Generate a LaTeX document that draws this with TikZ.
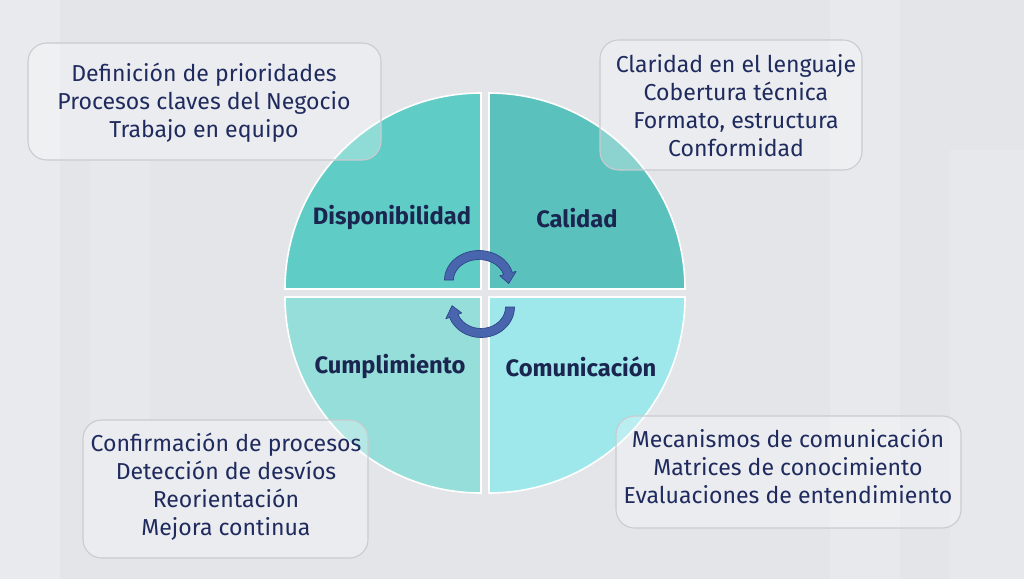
\documentclass[tikz,border=0pt]{standalone}
\usepackage{fontspec}
\setmainfont{Fira Sans}
\definecolor{bgc}{HTML}{E3E5E9}
\definecolor{qtl}{HTML}{5FCDC5}
\definecolor{qtr}{HTML}{5BC1BD}
\definecolor{qbl}{HTML}{95DED9}
\definecolor{qbr}{HTML}{9EE8EB}
\definecolor{txt}{HTML}{1F2B5E}
\definecolor{lab}{HTML}{1A2550}
\definecolor{arrf}{HTML}{4865AE}
\definecolor{arrd}{HTML}{2D4486}
\definecolor{boxd}{HTML}{C9CBD0}
\tikzset{
  quad/.style={draw=white,line width=1.2pt},
  infobox/.style={draw=boxd,line width=0.8pt,fill=white,fill opacity=0.3,rounded corners=14pt},
  infotext/.style={text=txt,align=center,font=\fontsize{17.3}{21}\selectfont,inner sep=0pt},
  qlabel/.style={text=lab,font=\fontsize{17.8}{20}\selectfont\bfseries,inner sep=0pt},
  cyc/.style={fill=arrf,draw=arrd,line width=0.5pt,line join=round}
}
\begin{document}
\begin{tikzpicture}[x=0.75pt,y=-0.75pt]
\fill[bgc] (0,0) rectangle (1024,579);
% subtle background texture
\fill[white,opacity=0.2] (0,0) rectangle (60,579);
\fill[white,opacity=0.15] (90,160) rectangle (150,420);
\fill[white,opacity=0.18] (830,0) rectangle (900,579);
\fill[white,opacity=0.15] (950,150) rectangle (1024,579);
\useasboundingbox (0,0) rectangle (1024,579);
% quadrants
\filldraw[quad,fill=qtl] (481,289) -- ([shift={(481,289)}]180:196) arc[start angle=180,end angle=270,radius=196] -- cycle;
\filldraw[quad,fill=qtr] (489,289) -- ([shift={(489,289)}]270:196) arc[start angle=270,end angle=360,radius=196] -- cycle;
\filldraw[quad,fill=qbl] (481,297) -- ([shift={(481,297)}]90:196) arc[start angle=90,end angle=180,radius=196] -- cycle;
\filldraw[quad,fill=qbr] (489,297) -- ([shift={(489,297)}]0:196) arc[start angle=0,end angle=90,radius=196] -- cycle;
% cycle arrows
\filldraw[cyc] ([shift={(479,280)}]180:34.5 and 29.5) arc[start angle=180,end angle=345,x radius=34.5,y radius=29.5]
  -- ([shift={(479,280)}]345:38.5 and 33.5) -- ([shift={(479,280)}]8:30 and 25)
  -- ([shift={(479,280)}]345:21.5 and 16.5) -- ([shift={(479,280)}]345:25.5 and 20.5)
  arc[start angle=345,end angle=180,x radius=25.5,y radius=20.5] -- cycle;
\filldraw[cyc] ([shift={(481,307)}]0:33.5 and 30.5) arc[start angle=0,end angle=160,x radius=33.5,y radius=30.5]
  -- ([shift={(481,307)}]160:37.5 and 34.5) -- ([shift={(481,307)}]183:29 and 26)
  -- ([shift={(481,307)}]160:20.5 and 17.5) -- ([shift={(481,307)}]160:24.5 and 21.5)
  arc[start angle=160,end angle=0,x radius=24.5,y radius=21.5] -- cycle;
% labels
\node[qlabel] (ldisp) at (392,218) {Disponibilidad};
\node[qlabel] (lcal) at (577,218) {Calidad};
\node[qlabel] (lcump) at (390,367) {Cumplimiento};
\node[qlabel] (lcom) at (581,367) {Comunicación};
% info boxes
\draw[infobox] (28,43) rectangle (381,160);
\draw[infobox] (600,40) rectangle (862,170);
\draw[infobox] (83,420) rectangle (368,558);
\draw[infobox] (616,416) rectangle (961,528);
\node[infotext] (ttl) at (204,103) {Definición de prioridades\\Procesos claves del Negocio\\Trabajo en equipo};
\node[infotext] (ttr) at (736,106) {Claridad en el lenguaje\\Cobertura técnica\\Formato, estructura\\Conformidad};
\node[infotext] (tbl) at (226,487) {Confirmación de procesos\\Detección de desvíos\\Reorientación\\Mejora continua};
\node[infotext] (tbr) at (788,466) {Mecanismos de comunicación\\Matrices de conocimiento\\Evaluaciones de entendimiento};
\end{tikzpicture}
\end{document}
